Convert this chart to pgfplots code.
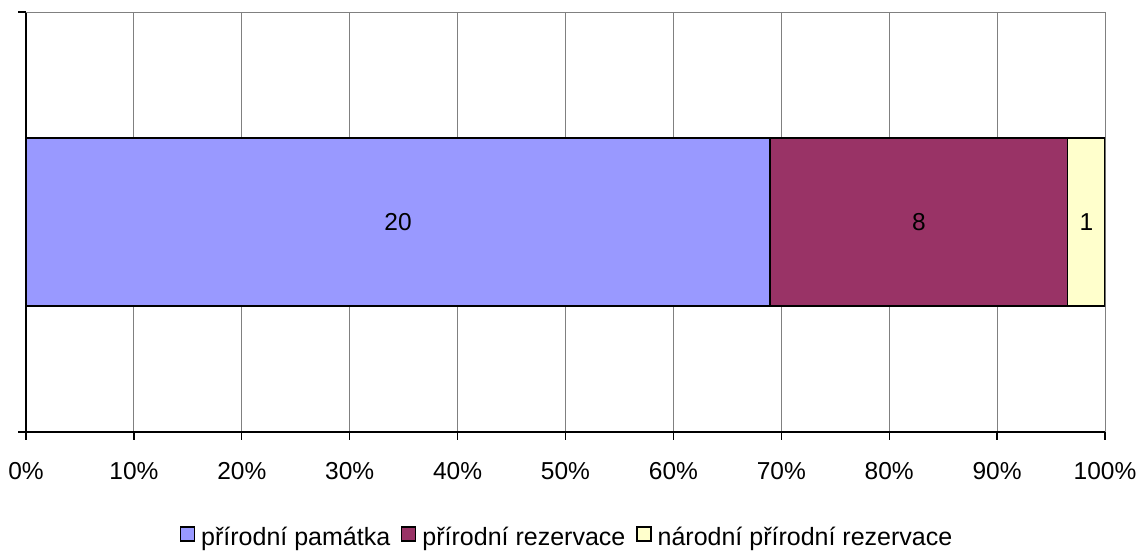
\documentclass[border=0pt]{standalone}
\usepackage{fontspec}
\setmainfont{Liberation Sans}
\usepackage{pgfplots}
\pgfplotsset{compat=1.18}
\definecolor{cblue}{HTML}{9999FF}
\definecolor{cmaroon}{HTML}{993366}
\definecolor{ccream}{HTML}{FFFFCC}
\definecolor{gridgray}{HTML}{808080}
\begin{document}
\begin{tikzpicture}[font=\fontsize{24.5}{29}\selectfont]
\begin{axis}[
  at={(0,0)}, anchor=south west,
  scale only axis, width=1079pt, height=420pt,
  xbar stacked, bar width=168pt,
  xmin=0, xmax=100, ymin=-1, ymax=1,
  xtick={0,10,...,100},
  xticklabels={0\%,10\%,20\%,30\%,40\%,50\%,60\%,70\%,80\%,90\%,100\%},
  ytick={-1,1}, yticklabels={},
  xmajorgrids, grid style={draw=gridgray, line width=1pt},
  axis x line*=bottom, axis y line*=left,
  axis line style={-, black, line width=1.3pt},
  tick align=outside, major tick length=7.5pt,
  tick style={black, line width=1.3pt},
  xticklabel style={font=\fontsize{24.5}{29}\selectfont, anchor=base, yshift=-40pt},
  legend style={at={(0.501,-0.25)}, anchor=center, draw=none, fill=none,
    legend columns=-1, font=\fontsize{25}{29}\selectfont,
    /tikz/every odd column/.append style={column sep=5pt},
    /tikz/every even column/.append style={column sep=10pt},
    nodes={inner xsep=1pt, inner ysep=2pt}},
  legend image code/.code={\draw[#1,draw=black,line width=1.3pt] (0pt,-4pt) rectangle (14pt,10pt);},
  every axis plot/.append style={draw=black, line width=1.3pt},
]
\addplot[fill=cblue] coordinates {(68.966,0)};
\addplot[fill=cmaroon] coordinates {(27.586,0)};
\addplot[fill=ccream] coordinates {(3.448,0)};
\legend{přírodní památka,přírodní rezervace,národní přírodní rezervace}
\draw[gridgray, line width=1.5pt] (rel axis cs:0,1) -- (rel axis cs:1,1);
\coordinate (l20) at (axis cs:34.483,0);
\coordinate (l8) at (axis cs:82.759,0);
\coordinate (l1) at (axis cs:98.276,0);
\end{axis}
\node at (l20) {20};
\node at (l8) {8};
\node at (l1) {1};
\pgfresetboundingbox
\path (-26pt,-120pt) rectangle (1114pt,432pt);
\end{tikzpicture}
\end{document}
